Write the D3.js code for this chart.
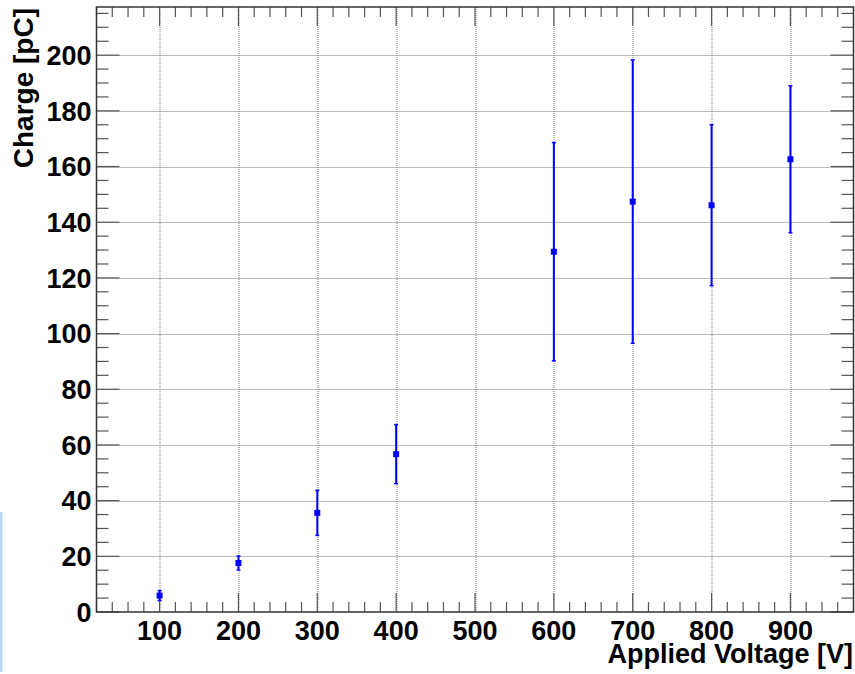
<!DOCTYPE html>
<html>
<head>
<meta charset="utf-8">
<script src="https://cdn.jsdelivr.net/npm/d3@7"></script>
<style>
  html, body { margin: 0; padding: 0; background: #fff; }
  svg { display: block; }
  text { font-family: "Liberation Sans", Arial, sans-serif; font-weight: bold; fill: #000; }
</style>
</head>
<body>
<svg id="chart" width="855" height="674"></svg>
<script>
// data
const voltages = [100, 200, 300, 400, 600, 700, 800, 900];
const charge = [5.9, 17.6, 35.6, 56.7, 129.4, 147.4, 146.1, 162.6];
const chargeErr = [1.8, 2.5, 8.1, 10.6, 39.2, 50.9, 28.9, 26.4];

const xTickLabels = [100, 200, 300, 400, 500, 600, 700, 800, 900];
const yTickLabels = [0, 20, 40, 60, 80, 100, 120, 140, 160, 180, 200];
const xMinorTicks = [20, 40, 60, 80, 120, 140, 160, 180, 220, 240, 260, 280, 320, 340, 360, 380,
  420, 440, 460, 480, 520, 540, 560, 580, 620, 640, 660, 680, 720, 740, 760, 780,
  820, 840, 860, 880, 920, 940, 960];
const yMinorTicks = [5, 10, 15, 25, 30, 35, 45, 50, 55, 65, 70, 75, 85, 90, 95, 105, 110, 115,
  125, 130, 135, 145, 150, 155, 165, 170, 175, 185, 190, 195, 205, 210, 215];

const xTitle = "Applied Voltage [V]";
const yTitle = "Charge [pC]";

function drawChart() {
  const svg = d3.select("#chart");

  const margin = { top: 7, right: 1.5, bottom: 62, left: 96.5 };
  const width = +svg.attr("width");
  const height = +svg.attr("height");
  const innerWidth = width - margin.left - margin.right;
  const innerHeight = height - margin.top - margin.bottom;

  // stray light-blue strip on the left edge of the picture
  svg.append("rect")
    .attr("x", 0)
    .attr("y", 512)
    .attr("width", 2.5)
    .attr("height", 160)
    .attr("fill", "#b5d9ef");

  const g = svg.append("g")
    .attr("transform", `translate(${margin.left}, ${margin.top})`);

  const x = d3.scaleLinear().domain([20, 980]).range([0, innerWidth]);
  const y = d3.scaleLinear().domain([0, 217.3]).range([innerHeight, 0]);

  // grid
  const grid = g.append("g")
    .attr("stroke", "#7a7a7a")
    .attr("stroke-width", 1)
    .attr("stroke-dasharray", "1,1");

  grid.selectAll(".gx")
    .data(xTickLabels)
    .join("line")
    .attr("x1", d => Math.round(x(d)) + 0.5)
    .attr("x2", d => Math.round(x(d)) + 0.5)
    .attr("y1", 0)
    .attr("y2", innerHeight);

  grid.selectAll(".gy")
    .data(yTickLabels.filter(d => d > 0))
    .join("line")
    .attr("x1", 0)
    .attr("x2", innerWidth)
    .attr("y1", d => Math.round(y(d)) + 0.5)
    .attr("y2", d => Math.round(y(d)) + 0.5);

  // ticks on all four sides
  const tickColor = "#555";
  const xMajorLen = 19, xMinorLen = 10;
  const yMajorLen = 23, yMinorLen = 12;

  const ticks = g.append("g").attr("stroke", tickColor).attr("stroke-width", 1.2);

  const xAll = xTickLabels.map(v => ({ v, len: xMajorLen }))
    .concat(xMinorTicks.map(v => ({ v, len: xMinorLen })));
  const yAll = yTickLabels.map(v => ({ v, len: yMajorLen }))
    .concat(yMinorTicks.map(v => ({ v, len: yMinorLen })));

  ticks.selectAll(".tb")
    .data(xAll)
    .join("line")
    .attr("x1", d => x(d.v))
    .attr("x2", d => x(d.v))
    .attr("y1", innerHeight)
    .attr("y2", d => innerHeight - d.len);

  ticks.selectAll(".tt")
    .data(xAll)
    .join("line")
    .attr("x1", d => x(d.v))
    .attr("x2", d => x(d.v))
    .attr("y1", 0)
    .attr("y2", d => d.len);

  ticks.selectAll(".tl")
    .data(yAll)
    .join("line")
    .attr("x1", 0)
    .attr("x2", d => d.len)
    .attr("y1", d => y(d.v))
    .attr("y2", d => y(d.v));

  ticks.selectAll(".tr")
    .data(yAll)
    .join("line")
    .attr("x1", innerWidth)
    .attr("x2", d => innerWidth - d.len)
    .attr("y1", d => y(d.v))
    .attr("y2", d => y(d.v));

  // frame
  g.append("rect")
    .attr("x", 0)
    .attr("y", 0)
    .attr("width", innerWidth)
    .attr("height", innerHeight)
    .attr("fill", "none")
    .attr("stroke", "#333")
    .attr("stroke-width", 1.5);

  // tick labels
  g.selectAll(".xl")
    .data(xTickLabels)
    .join("text")
    .attr("x", d => x(d))
    .attr("y", innerHeight + 28)
    .attr("text-anchor", "middle")
    .attr("font-size", "27px")
    .text(d => d);

  g.selectAll(".yl")
    .data(yTickLabels)
    .join("text")
    .attr("x", -5)
    .attr("y", d => y(d) + 9.8)
    .attr("text-anchor", "end")
    .attr("font-size", "27px")
    .text(d => d);

  // axis titles
  svg.append("text")
    .attr("x", 853)
    .attr("y", 663)
    .attr("text-anchor", "end")
    .attr("font-size", "27px")
    .text(xTitle);

  svg.append("text")
    .attr("transform", "translate(33, 8) rotate(-90)")
    .attr("text-anchor", "end")
    .attr("font-size", "28px")
    .text(yTitle);

  // data with error bars
  const points = voltages.map((v, i) => ({ v, c: charge[i], e: chargeErr[i] }));
  const blue = "#0000ff";

  const pts = g.append("g");

  pts.selectAll(".err")
    .data(points)
    .join("line")
    .attr("x1", d => x(d.v))
    .attr("x2", d => x(d.v))
    .attr("y1", d => y(d.c - d.e))
    .attr("y2", d => y(d.c + d.e))
    .attr("stroke", blue)
    .attr("stroke-width", 2);

  pts.selectAll(".capTop")
    .data(points)
    .join("line")
    .attr("x1", d => x(d.v) - 2)
    .attr("x2", d => x(d.v) + 2)
    .attr("y1", d => y(d.c + d.e))
    .attr("y2", d => y(d.c + d.e))
    .attr("stroke", blue)
    .attr("stroke-width", 1.5);

  pts.selectAll(".capBot")
    .data(points)
    .join("line")
    .attr("x1", d => x(d.v) - 2)
    .attr("x2", d => x(d.v) + 2)
    .attr("y1", d => y(d.c - d.e))
    .attr("y2", d => y(d.c - d.e))
    .attr("stroke", blue)
    .attr("stroke-width", 1.5);

  pts.selectAll(".mk")
    .data(points)
    .join("rect")
    .attr("x", d => x(d.v) - 3)
    .attr("y", d => y(d.c) - 3)
    .attr("width", 6)
    .attr("height", 6)
    .attr("fill", blue);
}

drawChart();
</script>
</body>
</html>
